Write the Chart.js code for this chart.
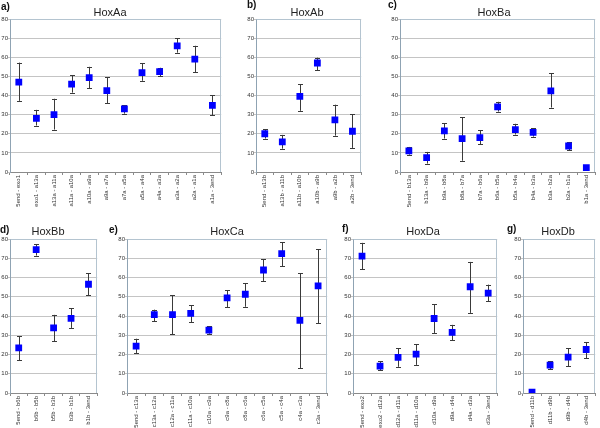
<!DOCTYPE html>
<html>
<head>
<meta charset="utf-8">
<script src="https://cdn.jsdelivr.net/npm/chart.js@4.4.0/dist/chart.umd.min.js"></script>
<style>
  body { margin: 0; background: #fff; width: 600px; height: 428px; position: relative; overflow: hidden;
         font-family: "Liberation Sans", Arial, sans-serif; }
  canvas { position: absolute; }
  .tag { position: absolute; font-weight: bold; font-size: 10px; line-height: 10px; color: #111; }
  .ttl { position: absolute; font-size: 11px; line-height: 12px; color: #222; width: 80px; text-align: center; }
</style>
</head>
<body>
<script>
// a) HoxAa
var aLabels = ['5end - exo1', 'exo1 - a13a', 'a13a - a11a', 'a11a - a10a', 'a10a - a9a', 'a9a - a7a',
               'a7a - a5a', 'a5a - a4a', 'a4a - a3a', 'a3a - a2a', 'a2a - a1a', 'a1a - 3end'];
var aMean = [47, 28, 30, 46, 49.3, 42.5, 33, 52, 52.5, 66, 59, 34.8];
var aLow  = [37.2, 24.3, 22.2, 41.5, 43.8, 36, 30.5, 47.7, 50, 62.4, 52.3, 29.8];
var aHigh = [57.2, 32.5, 38.3, 50.7, 55, 49.6, 35, 57, 54.5, 70, 66, 40.2];

// b) HoxAb
var bLabels = ['5end - a13b', 'a13b - a11b', 'a11b - a10b', 'a10b - a9b', 'a9b - a2b', 'a2b - 3end'];
var bMean = [20, 15.8, 39.5, 57, 27.3, 21.3];
var bLow  = [17.5, 12.2, 32, 53.3, 19, 12.6];
var bHigh = [22.4, 19.4, 46, 59.8, 35.2, 30.2];

// c) HoxBa
var cLabels = ['5end - b13a', 'b13a - b9a', 'b9a - b8a', 'b8a - b7a', 'b7a - b6a', 'b6a - b5a',
               'b5a - b4a', 'b4a - b3a', 'b3a - b2a', 'b2a - b1a', 'b1a - 3end'];
var cMean = [11, 7.5, 21.5, 17.4, 18, 34, 22.2, 20.7, 42.4, 13.6, 2.3];
var cLow  = [9.1, 4.4, 17.5, 5.9, 14.5, 31.6, 19.6, 18.5, 33.7, 11.5, 1.2];
var cHigh = [13.1, 10.5, 25.5, 28.6, 21.7, 36.7, 25.2, 23, 51.7, 15.7, 3.5];

// d) HoxBb
var dLabels = ['5end - b6b', 'b6b - b5b', 'b5b - b3b', 'b3b - b1b', 'b1b - 3end'];
var dMean = [23.4, 74.5, 33.8, 38.8, 56.5];
var dLow  = [17, 71.4, 27, 33.8, 50.7];
var dHigh = [29.4, 77.4, 40.6, 44.1, 62.1];

// e) HoxCa
var eLabels = ['5end - c13a', 'c13a - c12a', 'c12a - c11a', 'c11a - c10a', 'c10a - c9a', 'c9a - c8a',
               'c8a - c6a', 'c6a - c5a', 'c5a - c4a', 'c4a - c3a', 'c3a - 3end'];
var eMean = [24.4, 40.7, 40.7, 41.4, 32.7, 49.4, 51.3, 63.9, 72.4, 37.7, 55.6];
var eLow  = [20.8, 37.2, 30.5, 36.7, 30.8, 44.5, 44.8, 58.2, 65.8, 13, 36.2];
var eHigh = [28.2, 43.3, 50.7, 45.5, 34.6, 53.5, 57, 69.6, 78.3, 62.3, 74.8];

// f) HoxDa
var fLabels = ['5end - exo2', 'exo2 - d12a', 'd12a - d11a', 'd11a - d10a', 'd10a - d9a', 'd9a - d4a',
               'd4a - d3a', 'd3a - 3end'];
var fMean = [71.1, 14, 18.5, 20.2, 38.7, 31.5, 55.2, 51.9];
var fLow  = [64.3, 11.8, 13.6, 14.6, 31.2, 27.5, 41.6, 47.6];
var fHigh = [78, 16.4, 23.2, 25.4, 46, 35.4, 68.1, 56.3];

// g) HoxDb
var gLabels = ['5end - d11b', 'd11b - d9b', 'd9b - d4b', 'd4b - 3end'];
var gMean = [0.5, 14.5, 18.6, 22.6];
var gLow  = [0.3, 12.4, 13.8, 18.1];
var gHigh = [0.7, 16.6, 23.3, 26.5];

var yTicks = [0, 10, 20, 30, 40, 50, 60, 70, 80];

// error bars drawn through the chart's own scales
var errorBars = {
  id: 'errorBars',
  beforeDatasetsDraw: function(chart) {
    var ctx = chart.ctx, xs = chart.scales.x, ys = chart.scales.y;
    var ds = chart.data.datasets[0];
    ctx.save();
    ctx.strokeStyle = '#3a3a3a';
    ctx.lineWidth = 1;
    for (var i = 0; i < ds.data.length; i++) {
      var x = Math.round(xs.getPixelForValue(i)) + 0.5;
      var y1 = ys.getPixelForValue(ds.errLow[i]);
      var y2 = ys.getPixelForValue(ds.errHigh[i]);
      ctx.beginPath();
      ctx.moveTo(x, y1); ctx.lineTo(x, y2);
      ctx.moveTo(x - 2.5, Math.round(y1) + 0.5); ctx.lineTo(x + 2.5, Math.round(y1) + 0.5);
      ctx.moveTo(x - 2.5, Math.round(y2) + 0.5); ctx.lineTo(x + 2.5, Math.round(y2) + 0.5);
      ctx.stroke();
    }
    ctx.restore();
  }
};

// light frame around the plot area
var frame = {
  id: 'frame',
  beforeDatasetsDraw: function(chart) {
    var a = chart.chartArea, ctx = chart.ctx;
    ctx.save();
    ctx.strokeStyle = '#b4c4d0';
    ctx.lineWidth = 1;
    ctx.beginPath();
    ctx.moveTo(Math.round(a.left) + 0.5, Math.round(a.top) + 0.5);
    ctx.lineTo(Math.round(a.right) - 0.5, Math.round(a.top) + 0.5);
    ctx.lineTo(Math.round(a.right) - 0.5, Math.round(a.bottom));
    ctx.stroke();
    ctx.restore();
  }
};

function addText(cls, txt, left, top) {
  var d = document.createElement('div');
  d.className = cls;
  d.textContent = txt;
  d.style.left = left + 'px';
  d.style.top = top + 'px';
  document.body.appendChild(d);
}

function makePanel(labels, mean, low, high, plotLeft, plotRight, topRow) {
  var rowTop = topRow ? 0 : 215;
  var rowH = topRow ? 215 : 223;
  var plotTop = topRow ? 19 : 239;
  var plotBottom = topRow ? 172 : 393;
  var left = plotLeft - 14;
  var axisW = 14;
  var w = plotRight - left + 2;

  var cv = document.createElement('canvas');
  cv.width = w;
  cv.height = rowH;
  cv.style.left = left + 'px';
  cv.style.top = rowTop + 'px';
  document.body.appendChild(cv);

  new Chart(cv.getContext('2d'), {
    type: 'line',
    data: {
      labels: labels,
      datasets: [{
        data: mean,
        errLow: low,
        errHigh: high,
        showLine: false,
        pointStyle: 'rect',
        pointRadius: 4.8,
        pointBackgroundColor: '#0000ff',
        pointBorderColor: '#0000ff',
        pointBorderWidth: 0
      }]
    },
    options: {
      responsive: false,
      animation: false,
      events: [],
      layout: { padding: { top: plotTop - rowTop, right: 2, left: 0, bottom: 0 } },
      plugins: { legend: { display: false }, tooltip: { enabled: false } },
      scales: {
        x: {
          offset: true,
          grid: { display: true, offset: true, drawOnChartArea: false, drawTicks: true, tickLength: 3, color: '#8a8a8a' },
          border: { color: '#8a8a8a' },
          ticks: {
            autoSkip: false, minRotation: 90, maxRotation: 90, padding: 0,
            color: '#333', font: { family: 'Liberation Sans', size: 6 }
          },
          afterFit: function(s) { s.height = rowH - (plotBottom - rowTop); }
        },
        y: {
          min: 0, max: 80,
          afterBuildTicks: function(s) { s.ticks = yTicks.map(function(v) { return { value: v }; }); },
          grid: { color: '#c4c4c4', tickLength: 2 },
          border: { color: '#8fa3b3' },
          ticks: { padding: 0, color: '#333', font: { family: 'Liberation Sans', size: 6 } },
          afterFit: function(s) { s.width = axisW; }
        }
      }
    },
    plugins: [frame, errorBars]
  });
}

makePanel(aLabels, aMean, aLow, aHigh, 10, 224, true);
makePanel(bLabels, bMean, bLow, bHigh, 256, 364, true);
makePanel(cLabels, cMean, cLow, cHigh, 400, 598, true);
makePanel(dLabels, dMean, dLow, dHigh, 10, 100, false);
makePanel(eLabels, eMean, eLow, eHigh, 127, 330, false);
makePanel(fLabels, fMean, fLow, fHigh, 353, 500, false);
makePanel(gLabels, gMean, gLow, gHigh, 523, 598, false);

addText('tag', 'a)', 1, 2);
addText('tag', 'b)', 247, 0);
addText('tag', 'c)', 388, 0);
addText('tag', 'd)', 0, 225);
addText('tag', 'e)', 109, 225);
addText('tag', 'f)', 342, 224);
addText('tag', 'g)', 507, 224);

addText('ttl', 'HoxAa', 110 - 40, 6);
addText('ttl', 'HoxAb', 307 - 40, 6);
addText('ttl', 'HoxBa', 494 - 40, 6);
addText('ttl', 'HoxBb', 48 - 40, 225);
addText('ttl', 'HoxCa', 227 - 40, 225);
addText('ttl', 'HoxDa', 423 - 40, 225);
addText('ttl', 'HoxDb', 558 - 40, 225);
</script>
</body>
</html>
